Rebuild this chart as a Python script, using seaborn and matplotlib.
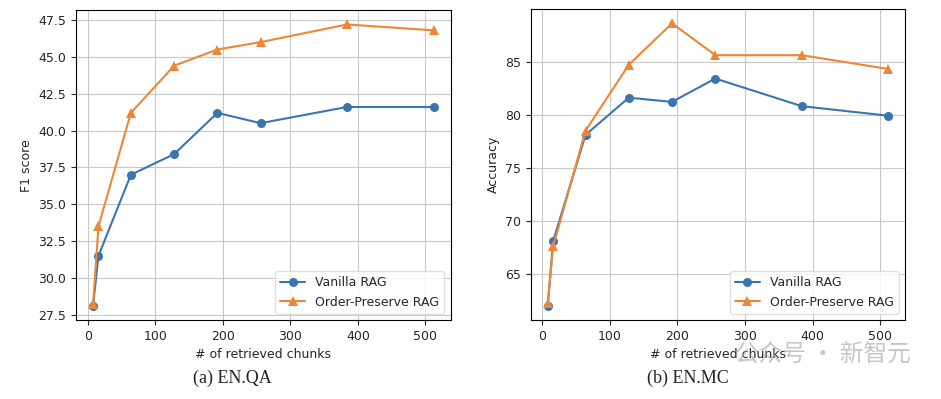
import pandas as pd
import matplotlib
matplotlib.use("Agg")
import matplotlib.pyplot as plt
import seaborn as sns

# Data
chunks = [8, 16, 64, 128, 192, 256, 384, 512]
qa_vanilla = [28.1, 31.5, 37.0, 38.4, 41.2, 40.5, 41.6, 41.6]
qa_order = [28.2, 33.5, 41.2, 44.4, 45.5, 46.0, 47.2, 46.8]
mc_vanilla = [62.0, 68.1, 78.1, 81.6, 81.2, 83.4, 80.8, 79.9]
mc_order = [62.3, 67.6, 78.5, 84.7, 88.6, 85.6, 85.6, 84.3]
methods = ["Vanilla RAG", "Order-Preserve RAG"]

sns.set_style("ticks", {"axes.grid": True, "grid.color": "#c8c8c8",
                        "axes.edgecolor": "black"})
plt.rcParams['font.family'] = ['DejaVu Sans', 'Noto Sans CJK SC']
plt.rcParams['font.size'] = 9

palette = {"Vanilla RAG": "#3b75af", "Order-Preserve RAG": "#ef8636"}
markers = {"Vanilla RAG": "o", "Order-Preserve RAG": "^"}


def make_df(v1, v2):
    return pd.DataFrame({
        "chunks": chunks * 2,
        "score": v1 + v2,
        "method": [methods[0]] * len(chunks) + [methods[1]] * len(chunks),
    })


fig = plt.figure(figsize=(9.41, 3.99), dpi=100)
ax1 = fig.add_axes([0.0808, 0.198, 0.398, 0.776])
ax2 = fig.add_axes([0.564, 0.198, 0.398, 0.779])

for ax, df, ylab in [(ax1, make_df(qa_vanilla, qa_order), "F1 score"),
                     (ax2, make_df(mc_vanilla, mc_order), "Accuracy")]:
    sns.lineplot(data=df, x="chunks", y="score", hue="method", style="method",
                 markers=markers, dashes=False, palette=palette, ax=ax,
                 markersize=6.5, linewidth=1.5, markeredgewidth=0)
    ax.set_xlabel("# of retrieved chunks", fontsize=9)
    ax.set_ylabel(ylab, fontsize=9)
    ax.tick_params(labelsize=9, length=3.5, width=0.8)
    ax.set_xticks([0, 100, 200, 300, 400, 500])
    ax.grid(True, color="#c8c8c8", linewidth=0.8)
    for s in ax.spines.values():
        s.set_color("black")
        s.set_linewidth(0.8)
    leg = ax.legend(loc="lower right", fontsize=9, title=None)
    leg.get_frame().set_edgecolor("#d8d8d8")

ax1.set_yticks([27.5, 30.0, 32.5, 35.0, 37.5, 40.0, 42.5, 45.0, 47.5])
ax2.set_yticks([65, 70, 75, 80, 85])

fig.text(0.247, 0.04, "(a) EN.QA", fontsize=13, ha="center",
         family="Liberation Serif")
fig.text(0.731, 0.04, "(b) EN.MC", fontsize=13, ha="center",
         family="Liberation Serif")
# watermark
fig.text(0.968, 0.095, "公众号 · 新智元", fontsize=17, ha="right",
         color="#a0a0a0", alpha=0.6,
         family=["Noto Sans CJK SC", "DejaVu Sans"])

fig.savefig("out.png", dpi=100)
